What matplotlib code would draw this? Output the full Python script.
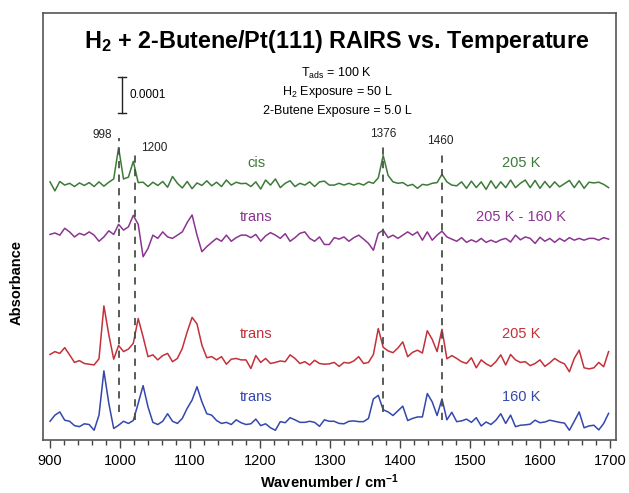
import numpy as np
import matplotlib
matplotlib.use("Agg")
import matplotlib.pyplot as plt
from matplotlib.ticker import MultipleLocator

plt.rcParams['font.family'] = ['Liberation Sans', 'DejaVu Sans']
plt.rcParams['mathtext.fontset'] = 'custom'
plt.rcParams['mathtext.rm'] = 'Liberation Sans'
plt.rcParams['mathtext.it'] = 'Liberation Sans:italic'
plt.rcParams['mathtext.bf'] = 'Liberation Sans:bold'

# ---------------- data (absorbance in units of 1e-5, relative to each trace baseline) -------------
wavenumber = np.arange(900, 1700, 7)   # 900 ... 1698 cm^-1

cis_205K = [
    0.7, -1.8, 0.8, -0.2, 0.3, -0.6, 0.4, -0.3, 0.5, -0.6,
    0.7, -0.5, 0.6, 1.5, 10.2, 1.5, 2.0, 6.4, 0.5, 0.6,
    -0.6, 0.6, -0.3, 0.8, -0.8, 2.2, 0.3, -1.0, 0.8, -1.2,
    0.4, -0.3, 1.0, -0.4, 0.6, -0.6, 1.2, -0.2, 0.6, 0.2,
    0.3, -0.6, 0.7, -1.3, 1.2, -0.2, 1.5, -0.9, 0.3, 1.0,
    -0.6, 0.3, -0.2, 0.7, -0.6, 0.7, 0.9, -0.2, -0.2, 0.3,
    -0.2, 0.3, -0.2, 0.3, -0.2, 0.7, 0.3, 1.8, 8.0, 2.5,
    0.7, 0.3, 0.5, -0.4, 0.0, -1.1, 0.0, -0.2, 0.3, 0.5,
    2.8, 0.7, -0.2, -0.4, 0.7, -1.1, 0.9, -0.9, 0.7, -1.4,
    1.0, -1.1, 0.7, -0.9, 1.2, -0.9, 0.3, 1.2, -0.9, 1.1,
    -1.1, 0.8, -0.9, 0.7, -0.7, 0.2, 1.1, -0.9, 1.0, -1.1,
    0.6, 0.4, 0.6, 0.0, -0.9,
]

diff_205_160 = [
    0.2, 0.6, 0.0, 1.9, 0.9, -0.5, 0.5, 0.0, 0.9, 0.0,
    -1.7, -0.5, 1.2, 0.2, 3.0, 1.4, 2.3, 5.5, 3.0, -6.0,
    -3.7, 0.0, -0.9, 0.9, -0.5, -0.9, 0.0, 0.9, 3.5, 5.6,
    0.0, -4.6, -3.2, -2.0, -0.9, -1.7, 0.0, -1.7, -0.7, 0.0,
    0.0, -0.7, 0.2, -1.7, -0.2, 0.7, 0.0, -0.9, 0.4, -1.7,
    -0.7, 0.5, 0.9, -0.9, -1.7, -0.5, -2.6, -2.6, -0.7, -1.1,
    -0.5, -1.7, -0.7, 0.0, -1.1, -2.3, -4.2, 0.5, 1.4, -0.7,
    0.0, -0.9, 0.0, 0.9, 0.0, 0.9, -1.4, 0.9, -1.4, 0.0,
    1.1, -0.5, -1.1, -1.7, -0.7, -2.0, -1.3, -1.9, -0.9, -2.0,
    -1.4, -2.0, -1.3, -0.9, -1.9, 0.0, -1.3, -0.5, -0.9, -2.3,
    -0.6, -1.7, -0.9, -2.0, -0.9, -1.7, -0.7, -1.4, -0.9, -1.4,
    -0.9, -0.9, -1.4, -0.7, -1.1,
]

trans_205K = [
    2.0, 2.8, 2.3, 3.9, 1.9, -0.2, 0.3, -0.5, -0.7, -0.9,
    0.8, 15.5, 7.5, 0.7, 4.5, 2.8, 3.5, 5.1, 12.0, 6.9,
    1.4, 1.9, 0.5, 1.7, 2.3, 0.0, 0.9, 3.7, 8.3, 12.3,
    10.5, 4.6, 1.1, 1.4, 0.5, 1.4, -0.7, 0.7, 0.9, 0.5,
    0.5, -1.9, 1.7, -0.2, 0.9, -0.5, -0.2, 0.2, 0.0, 1.9,
    0.9, -0.5, 0.0, -0.9, 0.4, -0.5, -0.7, -0.6, -0.2, -1.3,
    -0.2, -0.4, 0.2, 1.4, -0.5, -0.2, 2.0, 9.2, 4.0, 3.0,
    2.5, 3.8, 5.5, 1.4, 2.6, 3.2, 2.4, 8.6, 6.2, 2.8,
    9.0, 0.8, 1.7, 0.9, 0.0, -0.5, 1.1, -1.7, 0.5, -0.6,
    -1.3, 0.0, 1.9, -0.9, 2.0, 0.5, -0.2, 0.0, -1.1, -0.5,
    0.5, -1.3, -0.3, 0.9, 0.0, -0.6, -2.8, 0.9, 3.2, -1.7,
    -2.0, -1.7, -0.2, -1.4, 2.8,
]

trans_160K = [
    0.6, 2.3, 3.2, 0.9, 0.6, -0.6, -0.9, -0.1, -0.3, -1.9,
    2.3, 14.6, 5.6, -1.4, -0.5, 0.6, 0.0, 0.8, 5.6, 10.5,
    4.6, 0.3, -0.3, 0.6, 2.7, 0.6, 0.0, 1.4, 4.2, 6.5,
    10.2, 6.0, 2.7, 2.3, 0.8, 0.0, 0.3, -0.3, 1.0, 0.2,
    -0.3, -0.1, 1.2, -0.6, -0.1, -1.2, -1.9, 0.5, 0.2, 1.6,
    1.0, 0.3, 0.3, 0.6, 0.3, -0.8, 1.0, 0.6, 0.6, 0.0,
    -0.1, 0.6, 0.7, 0.5, 0.5, 1.4, 6.8, 7.8, 3.8, 3.2,
    2.2, 3.5, 4.8, 0.8, 1.4, 1.8, 1.8, 8.3, 6.0, 2.2,
    6.8, 1.0, 3.1, 0.5, 0.7, 1.2, 0.3, 1.6, -0.7, 0.4,
    -0.3, 0.9, 2.7, 0.0, 2.3, -0.9, -0.5, -0.4, -0.2, 0.9,
    0.2, 0.4, 0.9, 0.6, 0.3, 0.1, -1.9, 0.6, 3.2, -1.2,
    -0.7, -0.5, -1.8, 0.0, 2.8,
]

series_left_labels = ["cis", "trans", "trans", "trans"]
series_right_labels = ["205 K", "205 K - 160 K", "205 K", "160 K"]
marker_wavenumbers = [998, 1022, 1376, 1460]
marker_labels = ["998", "1200", "1376", "1460"]
scale_bar_value = 10.0          # 0.0001 absorbance in 1e-5 units
scale_bar_label = "0.0001"

# ---------------- layout / style ----------------
offsets = [71.0, 56.9, 21.75, 4.6]
colors = ["#3d7a38", "#8a3590", "#c4303a", "#3447ad"]
label_y = [76.9, 62.0, 29.4, 12.0]

fig = plt.figure(figsize=(6.29, 4.93), dpi=100)
ax = fig.add_axes([43 / 629, 53 / 493, 573 / 629, 427 / 493])

all_series = [cis_205K, diff_205_160, trans_205K, trans_160K]
for vals, off, col in zip(all_series, offsets, colors):
    ax.plot(wavenumber, np.asarray(vals) + off, color=col, lw=1.1,
            solid_joinstyle='round', zorder=2)

ax.set_xlim(890, 1708.6)
ax.set_ylim(0, 118.6)

# dashed marker lines
dash_ranges = [(7.8, 83.9), (5.6, 80.6), (7.8, 81.7), (5.6, 80.6)]
for w, (y0, y1) in zip(marker_wavenumbers, dash_ranges):
    ax.plot([w, w], [y0, y1], ls=(0, (4, 3.5)), color="#4a4f4a", lw=1.3, zorder=3)

marker_text_pos = [(974, 84.7, 'center'), (1030, 81.0, 'left'), (1376, 85.0, 'center'), (1457, 83.1, 'center')]
for lab, (x, y, ha) in zip(marker_labels, marker_text_pos):
    ax.text(x, y, lab, ha=ha, va='center', fontsize=8.5, color="#222222")

# series labels
for lt, rt, col, y in zip(series_left_labels, series_right_labels, colors, label_y):
    ax.text(1195, y, lt, color=col, ha='center', va='center', fontsize=10.5)
    ax.text(1573, y, rt, color=col, ha='center', va='center', fontsize=10.5)

# scale bar
sb_x, sb_y0 = 1003, 90.8
ax.plot([sb_x, sb_x], [sb_y0, sb_y0 + scale_bar_value], color="#222222", lw=1.0)
for yy in (sb_y0, sb_y0 + scale_bar_value):
    ax.plot([sb_x - 5.5, sb_x + 5.5], [yy, yy], color="#222222", lw=1.0)
ax.text(1013.5, sb_y0 + scale_bar_value / 2, scale_bar_label, ha='left', va='center', fontsize=8.5)

# title and conditions (inside frame)
ax.text(0.513, 0.917, r'H$_\mathbf{2}$ + 2-Butene/Pt(111) RAIRS vs. Temperature',
        transform=ax.transAxes, ha='center', va='baseline', fontsize=16.8, fontweight='bold')
ax.text(0.513, 0.8595, r'T$_{\mathrm{ads}}$ = 100 K', transform=ax.transAxes, ha='center', va='center', fontsize=9)
ax.text(0.513, 0.815, r'H$_{2}$ Exposure = 50 L', transform=ax.transAxes, ha='center', va='center', fontsize=9)
ax.text(0.513, 0.7705, '2-Butene Exposure = 5.0 L', transform=ax.transAxes, ha='center', va='center', fontsize=9)

# axes styling
for sp in ax.spines.values():
    sp.set_color("#555555")
    sp.set_linewidth(1.2)
ax.set_yticks([])
ax.xaxis.set_major_locator(MultipleLocator(100))
ax.xaxis.set_minor_locator(MultipleLocator(20))
ax.tick_params(axis='x', which='major', direction='out', length=6, width=1, labelsize=10.5, pad=4, color="#444444")
ax.tick_params(axis='x', which='minor', direction='out', length=3.5, width=1, color="#444444")

ax.set_xlabel(r'Wavenumber / cm$^{\mathbf{-1}}$', fontsize=10.5, fontweight='bold', labelpad=3)
ax.set_ylabel('Absorbance', fontsize=10.5, fontweight='bold')
ax.yaxis.set_label_coords(-0.033, 0.37)

fig.savefig("out.png", dpi=100)
